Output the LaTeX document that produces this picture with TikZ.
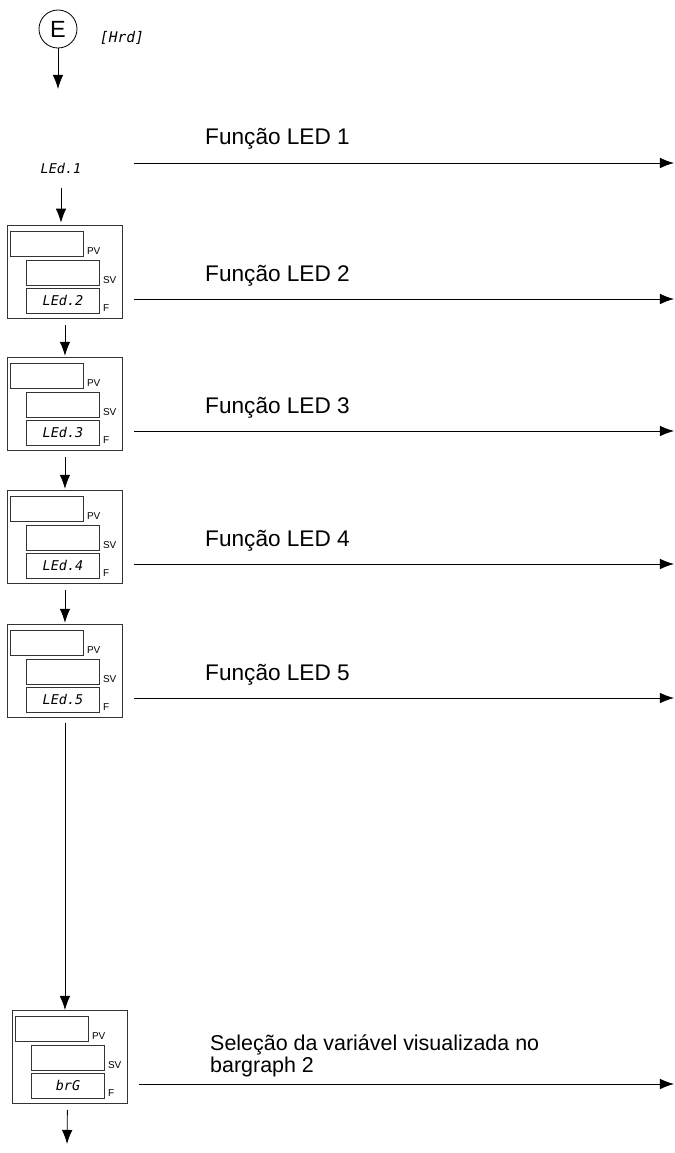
\documentclass[tikz,border=0pt]{standalone}
\usepackage{fontspec}
\setmainfont{Liberation Sans}
\newfontfamily\ledfont{DejaVu Sans Mono}
\usetikzlibrary{arrows.meta,positioning}
\tikzset{
  panel/.style={draw=black!80,line width=0.8pt,anchor=north west,inner sep=0pt,minimum width=3.45cm,minimum height=2.79cm},
  disp/.style={draw=black!80,line width=0.8pt,anchor=north west,inner sep=0pt,minimum width=2.19cm,minimum height=0.74cm,font=\ledfont\itshape\fontsize{11.5}{12}\selectfont},
  tag/.style={anchor=base west,inner sep=0pt,font=\fontsize{8.5}{9}\selectfont},
  func/.style={anchor=base west,inner sep=0pt,font=\fontsize{19.3}{21}\selectfont},
  flow/.style={line width=0.7pt,-{Latex[length=12pt,width=9pt]}},
}

\begin{document}
\begin{tikzpicture}[x=0.03cm,y=-0.03cm]
    \useasboundingbox (0,0) rectangle (674,1153);
        % entry
        \node[draw,circle,line width=0.7pt,minimum size=1.14cm,inner sep=0pt,font=\fontsize{20}{22}\selectfont] (E) at (58,29) {E};
        \node[font=\ledfont\itshape\fontsize{12.5}{13}\selectfont,inner sep=0pt] (hrd) at (122,38) {[Hrd]};
        \coordinate (Eend) at (58,89);
        \draw[flow] (E) -- (Eend);
        \node[font=\ledfont\itshape\fontsize{11.5}{12}\selectfont,inner sep=0pt] (led1) at (61,168) {LEd.1};
        \coordinate (a1) at (134,163);
        \coordinate (b1) at (674,163);
        \draw[flow] (a1) -- (b1);
        \node[func] (t1) at (205,145) {Função LED 1};
        % panels
        \foreach \n/\x/\y/\code in {1/7/225/LEd.2,2/7/357/LEd.3,3/7/490/LEd.4,4/7/624/LEd.5,5/12/1010/brG}{
          \node[panel] (p\n) at (\x,\y) {};
          \node[disp] (pv\n) at (\x+3,\y+6) {};
          \node[disp] (sv\n) at (\x+19,\y+35) {};
          \node[disp] (fn\n) at (\x+19,\y+63) {\code};
          \node[tag] at ([xshift=2.5pt,yshift=1.5pt]pv\n.south east) {PV};
          \node[tag] at ([xshift=2.5pt,yshift=1.5pt]sv\n.south east) {SV};
          \node[tag] at ([xshift=2.5pt,yshift=1.5pt]fn\n.south east) {F};
          \coordinate (a\n) at (\x+127,\y+74);
          \coordinate (b\n) at (674,\y+74);
          \draw[flow] (a\n) -- (b\n);
        }
        \foreach \n/\y in {1/225,2/357,3/490,4/624}{
          \pgfmathtruncatemacro{\k}{\n+1}
          \node[func] (t\k) at (205,\y+56) {Função LED \k};
        }
        \node[func,font=\fontsize{18.3}{20}\selectfont] (t6) at (210,1050) {Seleção da variável visualizada no};
        \node[func,font=\fontsize{18.3}{20}\selectfont] (t6b) at (210,1072) {bargraph 2};
        % down the chain
        \draw[flow,shorten <=12pt,shorten >=2pt] (led1) -- (led1 |- p1.north);
        \foreach \i/\j in {1/2,2/3,3/4}{
          \draw[flow,shorten <=5pt,shorten >=1pt] (p\i.south) -- (p\j.north);
        }
        \draw[flow,shorten <=4pt,shorten >=0pt] (p4.south) -- (p4.south |- p5.north);
        \coordinate (out) at (67,1144);
        \draw[flow,shorten <=5pt] (p5.south) ++(-2.5,0) coordinate (p5s) (p5s) -- (out);
    \end{tikzpicture}
\end{document}
